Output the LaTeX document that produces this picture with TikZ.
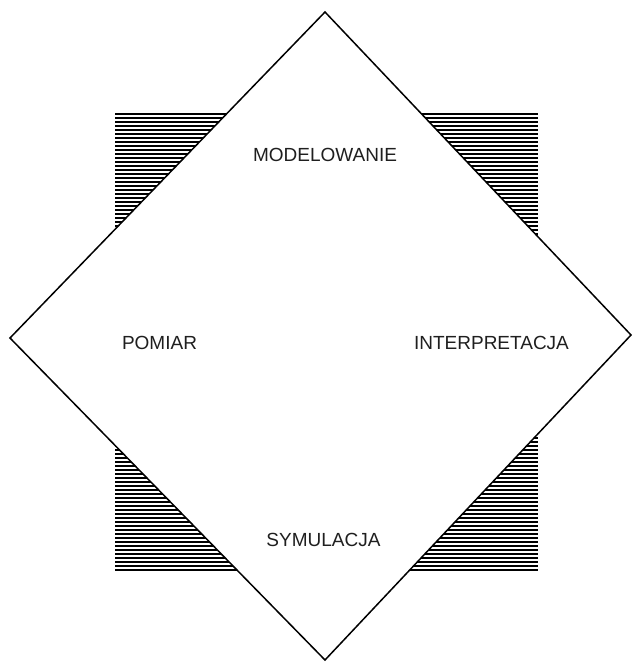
\documentclass[tikz,border=0pt]{standalone}
\usepackage{fontspec}
\setmainfont{Liberation Sans}
\begin{document}
\begin{tikzpicture}[x=1pt,y=-1pt,
  hatchline/.style={line width=1.6pt,black},
  frame/.style={draw=black,line width=1.5pt,fill=white,line join=miter},
  lbl/.style={font=\fontsize{19}{21}\selectfont,text=black!88,inner sep=0pt}]
\useasboundingbox (0,0) rectangle (632,662);
% hatched square behind
\foreach \yy in {114,118,...,572}
  \draw[hatchline] (115,\yy) -- (538,\yy);
% diamond
\draw[frame] (325,12) -- (631,335) -- (325,660) -- (10,338) -- cycle;
% labels
\node[lbl] (model) at (325,155) {MODELOWANIE};
\node[lbl] (pomiar) at (159.5,343) {POMIAR};
\node[lbl] (interp) at (491.5,343) {INTERPRETACJA};
\node[lbl] (symul) at (323.5,540) {SYMULACJA};
\end{tikzpicture}
\end{document}
